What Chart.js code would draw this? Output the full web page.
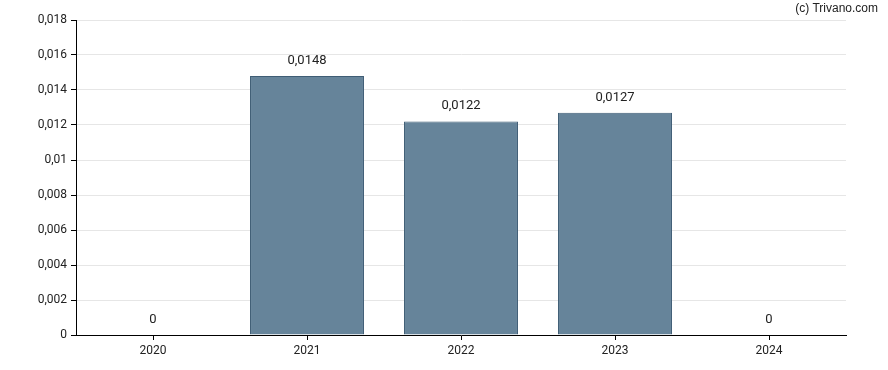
<!DOCTYPE html>
<html>
<head>
<meta charset="utf-8">
<script src="https://cdn.jsdelivr.net/npm/chart.js@4"></script>
<style>
html,body{margin:0;padding:0;background:#fff;}
#wrap{position:relative;width:888px;height:370px;}
#copy{position:absolute;right:10px;top:1px;font:12px "Liberation Sans",Arial,sans-serif;color:#222;}
</style>
</head>
<body>
<div id="wrap">
<canvas id="c" width="888" height="370"></canvas>
<div id="copy">(c) Trivano.com</div>
</div>
<script>
const categories = ['2020','2021','2022','2023','2024'];
const values = [0, 0.0148, 0.0122, 0.0127, 0];
const yMax = 0.018;
const yStep = 0.002;

const fmt = v => String(+(+v).toFixed(4)).replace('.', ',');

const labelPlugin = {
  id: 'valueLabels',
  afterDatasetsDraw(chart) {
    const ctx = chart.ctx;
    const meta = chart.getDatasetMeta(0);
    ctx.save();
    ctx.font = '13px Roboto, sans-serif';
    ctx.fillStyle = '#222';
    ctx.textAlign = 'center';
    ctx.textBaseline = 'bottom';
    meta.data.forEach((bar, i) => {
      ctx.fillText(fmt(values[i]), bar.x, bar.y - 9);
    });
    ctx.restore();
  }
};

new Chart(document.getElementById('c'), {
  type: 'bar',
  data: {
    labels: categories,
    datasets: [{
      data: values,
      backgroundColor: '#66849a',
      borderColor: '#3f5d75',
      borderWidth: 1,
      barPercentage: 0.74,
      categoryPercentage: 1
    }]
  },
  options: {
    responsive: false,
    animation: false,
    layout: { padding: { top: 20, right: 42, left: 0, bottom: 0 } },
    plugins: { legend: { display: false }, tooltip: { enabled: false } },
    scales: {
      x: {
        grid: { display: true, drawOnChartArea: false, drawTicks: true, tickLength: 5, offset: false, color: '#000' },
        border: { display: true, color: '#000', width: 1 },
        ticks: { font: { family: 'Roboto, sans-serif', size: 12 }, color: '#222', padding: 4 },
        afterFit(scale) { scale.height = 35; }
      },
      y: {
        min: 0, max: yMax,
        grid: { color: '#e6e6e6', tickColor: '#000', tickLength: 5 },
        border: { display: true, color: '#000', width: 1 },
        ticks: { stepSize: yStep, font: { family: 'Roboto, sans-serif', size: 12 }, color: '#222', padding: 4,
                 callback: v => fmt(v) },
        afterFit(scale) { scale.width = 76; }
      }
    }
  },
  plugins: [labelPlugin]
});
</script>
</body>
</html>
